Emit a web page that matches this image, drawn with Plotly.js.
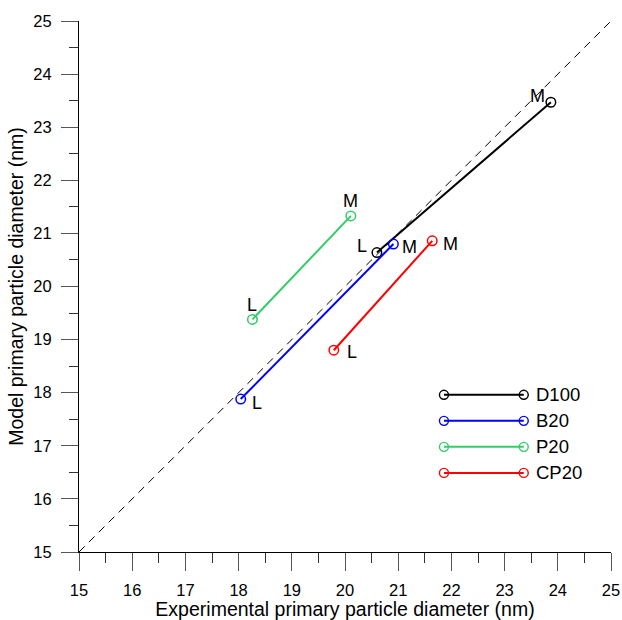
<!DOCTYPE html>
<html><head><meta charset="utf-8">
<script src="https://cdn.plot.ly/plotly-3.0.1.min.js"></script>
<style>body{margin:0;background:#fff}#c{width:622px;height:620px}</style>
</head><body><div id="c"></div>
<script>
// Data (L, M point for each fuel)
var seriesNames = ["D100", "B20", "P20", "CP20"];
var seriesColors = ["#000000", "#0000ff", "#33cc66", "#ff0000"];
var expL = [20.60, 18.04, 18.26, 19.79];
var modelL = [20.64, 17.88, 19.38, 18.80];
var expM = [23.87, 20.91, 20.11, 21.64];
var modelM = [23.47, 20.80, 21.33, 20.86];
var pointLabels = ["L", "M"];
// label offsets in px [dx, dy] for L and M per series
var offL = [[-15, 7], [16, -4], [0, 14], [18, -2]];
var offM = [[-13, 6], [16, -3], [0, 15], [18, -3]];
var identity = [15, 25];

var FONT = "Liberation Sans, Arial, sans-serif";
var traces = [];
traces.push({x: identity, y: identity, mode: "lines", line: {color: "#000", width: 1, dash: "8px,6px"}, hoverinfo: "skip", showlegend: false});
var ann = [];
for (var i = 0; i < seriesNames.length; i++) {
  traces.push({
    x: [expL[i], expM[i]], y: [modelL[i], modelM[i]], mode: "lines+markers",
    line: {color: seriesColors[i], width: 2},
    marker: {symbol: "circle-open", size: 9.5, color: seriesColors[i], line: {width: 1.5}},
    showlegend: false, name: seriesNames[i]
  });
  ann.push({x: expL[i], y: modelL[i], text: pointLabels[0], showarrow: false, xshift: offL[i][0], yshift: offL[i][1], font: {size: 18, color: "#000", family: FONT}});
  ann.push({x: expM[i], y: modelM[i], text: pointLabels[1], showarrow: false, xshift: offM[i][0], yshift: offM[i][1], font: {size: 18, color: "#000", family: FONT}});
  // custom legend on overlay axes (0..1 space)
  var ly = 0.296 - i * 0.049;
  traces.push({
    x: [0.686, 0.836], y: [ly, ly], xaxis: "x2", yaxis: "y2", mode: "lines+markers",
    line: {color: seriesColors[i], width: 2},
    marker: {symbol: "circle-open", size: 9, color: seriesColors[i], line: {width: 1.4}},
    showlegend: false, hoverinfo: "skip"
  });
  ann.push({xref: "x2", yref: "y2", x: 0.855, y: ly, text: seriesNames[i], xanchor: "left", showarrow: false, font: {size: 18.5, color: "#000", family: FONT}});
}

var layout = {
  width: 622, height: 620,
  margin: {l: 79, r: 11, t: 21, b: 68},
  paper_bgcolor: "#fff", plot_bgcolor: "#fff",
  font: {family: FONT, color: "#000", size: 16.5},
  showlegend: false,
  xaxis: {
    range: [15, 25], dtick: 1, tick0: 15, showgrid: false, zeroline: false,
    showline: true, linecolor: "#000", linewidth: 1,
    ticks: "outside", ticklen: 18, tickcolor: "#555", tickwidth: 1,
    ticklabelstandoff: 5,
    minor: {dtick: 0.5, ticklen: 10, tickcolor: "#333", ticks: "outside", showgrid: false},
    tickfont: {size: 16.5},
    title: {text: "Experimental primary particle diameter (nm)", font: {size: 19.5}, standoff: 2}
  },
  yaxis: {
    range: [15, 25], dtick: 1, tick0: 15, showgrid: false, zeroline: false,
    showline: true, linecolor: "#000", linewidth: 1,
    ticks: "outside", ticklen: 17, tickcolor: "#555", tickwidth: 1,
    ticklabelstandoff: 6,
    minor: {dtick: 0.5, ticklen: 9, tickcolor: "#333", ticks: "outside", showgrid: false},
    tickfont: {size: 16.5},
    title: {text: "Model primary particle diameter (nm)", font: {size: 19.5}, standoff: 4}
  },
  xaxis2: {range: [0, 1], overlaying: "x", visible: false, fixedrange: true},
  yaxis2: {range: [0, 1], overlaying: "y", visible: false, fixedrange: true},
  annotations: ann
};
Plotly.newPlot("c", traces, layout, {displayModeBar: false, staticPlot: true});
</script></body></html>
